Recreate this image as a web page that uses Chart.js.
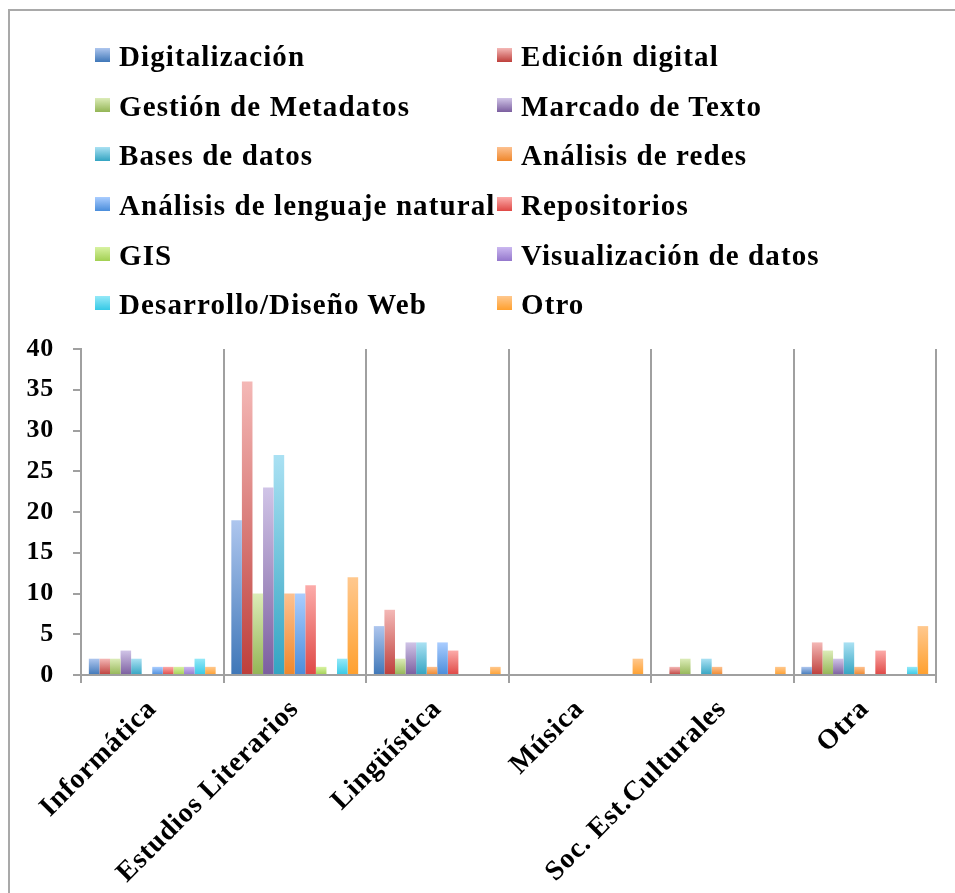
<!DOCTYPE html>
<html>
<head>
<meta charset="utf-8">
<script src="https://cdn.jsdelivr.net/npm/chart.js@4.4.0/dist/chart.umd.min.js"></script>
<style>
  body { margin: 0; width: 955px; height: 893px; overflow: hidden; background: #fff; position: relative; }
  #frame { position: absolute; left: 8px; top: 9px; width: 1200px; height: 1200px; border: 2px solid #a9a9a9; }
  #chart { position: absolute; left: 0; top: 0; }
  #legend { position: absolute; left: 95px; top: 32px; display: grid; grid-template-columns: 402px 420px;
            font-family: "Liberation Serif", serif; font-weight: bold; font-size: 29px; letter-spacing: 1.1px; color: #000; }
  .item { position: relative; height: 49.7px; line-height: 49.7px; padding-left: 24px; white-space: nowrap; }
  .box { position: absolute; left: 0; top: 16px; width: 15px; height: 14px; }
</style>
</head>
<body>
<div id="frame"></div>
<canvas id="chart" width="955" height="893"></canvas>
<div id="legend"></div>
<script>
var categories = ["Informática", "Estudios Literarios", "Lingüística", "Música", "Soc. Est.Culturales", "Otra"];
var seriesNames = ["Digitalización", "Edición digital", "Gestión de Metadatos", "Marcado de Texto",
	"Bases de datos", "Análisis de redes", "Análisis de lenguaje natural", "Repositorios",
	"GIS", "Visualización de datos", "Desarrollo/Diseño Web", "Otro"];

var digitalizacion   = [2, 19, 6, 0, 0, 1];
var edicionDigital   = [2, 36, 8, 0, 1, 4];
var gestionMetadatos = [2, 10, 2, 0, 2, 3];
var marcadoTexto     = [3, 23, 4, 0, 0, 2];
var basesDatos       = [2, 27, 4, 0, 2, 4];
var analisisRedes    = [0, 10, 1, 0, 1, 1];
var lenguajeNatural  = [1, 10, 4, 0, 0, 0];
var repositorios     = [1, 11, 3, 0, 0, 3];
var gis              = [1, 1, 0, 0, 0, 0];
var visualizacion    = [1, 0, 0, 0, 0, 0];
var disenoWeb        = [2, 2, 0, 0, 0, 1];
var otro             = [1, 12, 1, 2, 1, 6];

var yMin = 0, yMax = 40, yStep = 5;

var seriesValues = [digitalizacion, edicionDigital, gestionMetadatos, marcadoTexto, basesDatos, analisisRedes,
	lenguajeNatural, repositorios, gis, visualizacion, disenoWeb, otro];

// top colour, bottom colour of each bar gradient
var palette = [
	["#aec6ee", "#3f77b8"], ["#f4b8b6", "#be3f3b"], ["#dcecb8", "#93b555"], ["#d0c4e7", "#7b5e9f"],
	["#aae1f3", "#33a4c2"], ["#fdc190", "#ef872b"], ["#aacdff", "#4a8ddb"], ["#fcaba9", "#df4845"],
	["#d8f2a2", "#a2d052"], ["#cbb8f0", "#9477cc"], ["#95e9f8", "#35c9e6"], ["#ffc88e", "#ffa02e"]
];

function barFill(ctx) {
	var s = palette[ctx.datasetIndex];
	var chart = ctx.chart;
	if (ctx.type !== 'data' || !chart.chartArea || !chart.scales.y) return s[1];
	var y = chart.scales.y;
	var top = y.getPixelForValue(ctx.raw);
	var base = y.getPixelForValue(0);
	if (!isFinite(top) || top >= base) return s[1];
	var g = chart.ctx.createLinearGradient(0, top, 0, base);
	g.addColorStop(0, s[0]);
	g.addColorStop(1, s[1]);
	return g;
}

var datasets = [];
for (var i = 0; i < seriesNames.length; i++) {
	datasets.push({
		label: seriesNames[i],
		data: seriesValues[i],
		backgroundColor: barFill,
		borderWidth: 0,
		categoryPercentage: 0.89,
		barPercentage: 1.0
	});
}

var spacing = {
	id: 'spacing',
	beforeUpdate: function(chart) { chart.ctx.letterSpacing = '0.8px'; },
	beforeDraw: function(chart) { chart.ctx.letterSpacing = '0.8px'; }
};

var axisGray = "#a0a0a0";

var chart = new Chart(document.getElementById("chart"), {
	type: "bar",
	data: { labels: categories, datasets: datasets },
	options: {
		responsive: false,
		animation: false,
		devicePixelRatio: 1,
		layout: { padding: { left: 0, top: 349, right: 19, bottom: 0 } },
		plugins: { legend: { display: false }, tooltip: { enabled: false } },
		scales: {
			x: {
				grid: { offset: true, color: axisGray, lineWidth: 2, tickLength: 8, drawOnChartArea: true },
				border: { color: axisGray, width: 2 },
				ticks: { color: "#000", font: { family: "Liberation Serif", weight: "bold", size: 28 },
					maxRotation: 45, minRotation: 45, autoSkip: false, padding: 10 },
				afterFit: function(s) { s.height = 893 - 675; }
			},
			y: {
				min: yMin, max: yMax,
				grid: { drawOnChartArea: false, color: axisGray, lineWidth: 2, tickLength: 8 },
				border: { color: axisGray, width: 2 },
				ticks: { stepSize: yStep, color: "#000", font: { family: "Liberation Serif", weight: "bold", size: 26 }, padding: 19 },
				afterFit: function(s) { s.width = 81; }
			}
		}
	},
	plugins: [spacing]
});

// two-column legend built from the chart's datasets
var legend = document.getElementById("legend");
chart.data.datasets.forEach(function(ds, i) {
	var item = document.createElement("div");
	item.className = "item";
	var box = document.createElement("span");
	box.className = "box";
	box.style.background = "linear-gradient(" + palette[i][0] + ", " + palette[i][1] + ")";
	item.appendChild(box);
	item.appendChild(document.createTextNode(ds.label));
	legend.appendChild(item);
});
</script>
</body>
</html>
